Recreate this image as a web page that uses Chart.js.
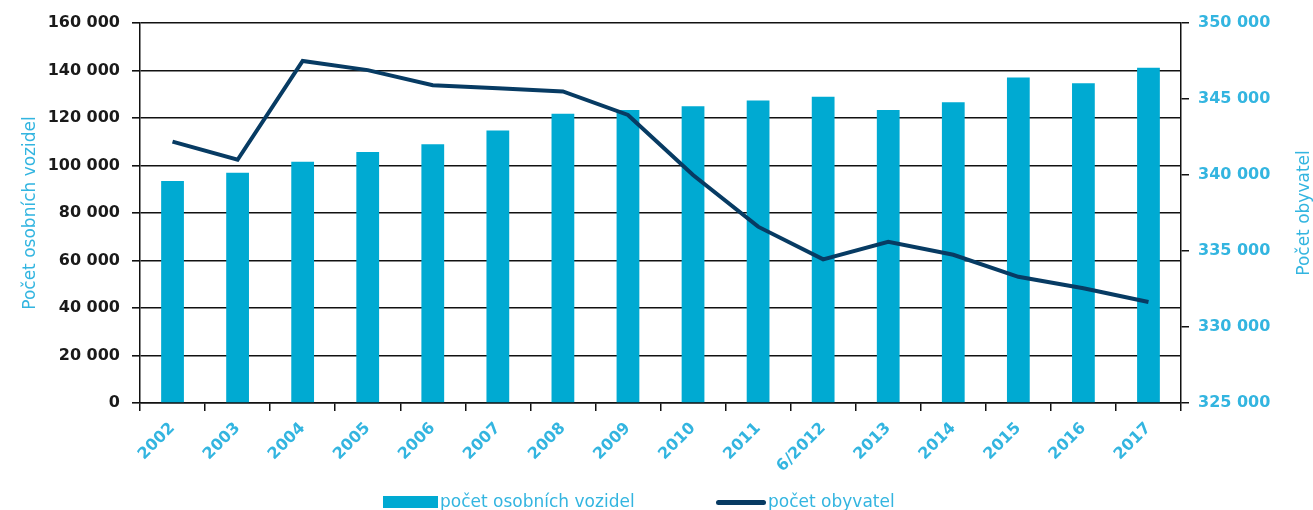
<!DOCTYPE html>
<html>
<head>
<meta charset="utf-8">
<script src="https://cdn.jsdelivr.net/npm/chart.js@4"></script>
<style>
  body { margin: 0; background: #fff; }
  #wrap { position: relative; width: 1313px; height: 510px; overflow: hidden; }
  .leg { position: absolute; top: 491px; font: 17px "DejaVu Sans", sans-serif; color: #33B5E0; white-space: nowrap; }
  .leg span { display: inline-block; vertical-align: middle; margin-right: 2px; }
</style>
</head>
<body>
<div id="wrap">
  <canvas id="myChart" width="1313" height="510"></canvas>
  <div class="leg" style="left:383px"><span style="width:55px;height:12px;background:#00AAD2"></span>počet osobních vozidel</div>
  <div class="leg" style="left:716px"><span style="width:50px;height:5px;border-radius:3px;background:#073B63"></span>počet obyvatel</div>
</div>
<script>
// Popisky a hodnoty
const roky = ['2002', '2003', '2004', '2005', '2006', '2007', '2008', '2009',
              '2010', '2011', '6/2012', '2013', '2014', '2015', '2016', '2017'];
const pocetVozidel = [93500, 97000, 101600, 105700, 108900, 114700, 121800, 123400,
                      125000, 127400, 129000, 123400, 126600, 137100, 134600, 141200];
const pocetObyvatel = [342200, 341000, 347500, 346900, 345900, 345700, 345500, 343950,
                       340000, 336600, 334450, 335600, 334750, 333300, 332550, 331650];

const azurova = '#33B5E0';
const tmava = '#073B63';

// cisla s mezerou jako oddelovacem tisicu
function formatCislo(v) {
    return String(v).replace(/\B(?=(\d{3})+(?!\d))/g, ' ');
}

// titulek prave osy (cte se zdola nahoru)
const pravyTitulek = {
    id: 'pravyTitulek',
    afterDraw(chart) {
        const ctx = chart.ctx;
        const area = chart.chartArea;
        ctx.save();
        ctx.translate(1305, (area.top + area.bottom) / 2);
        ctx.rotate(-Math.PI / 2);
        ctx.fillStyle = azurova;
        ctx.font = '17px "DejaVu Sans"';
        ctx.textAlign = 'center';
        ctx.textBaseline = 'middle';
        ctx.fillText('Počet obyvatel', 0, 0);
        ctx.restore();
    }
};

const ctx = document.getElementById('myChart').getContext('2d');
const myChart = new Chart(ctx, {
    type: 'bar',
    data: {
        labels: roky,
        datasets: [{
            type: 'line',
            label: 'počet obyvatel',
            data: pocetObyvatel,
            yAxisID: 'y1',
            borderColor: tmava,
            backgroundColor: tmava,
            borderWidth: 4,
            pointRadius: 0,
            tension: 0,
            order: 0,
        }, {
            label: 'počet osobních vozidel',
            data: pocetVozidel,
            yAxisID: 'y',
            backgroundColor: '#00AAD2',
            categoryPercentage: 1,
            barPercentage: 0.35,
            order: 1,
        }],
    },
    options: {
        responsive: false,
        animation: false,
        layout: { padding: { top: 23, left: 0, right: 0, bottom: 0 } },
        plugins: {
            legend: { display: false },
            tooltip: { enabled: false },
        },
        scales: {
            x: {
                offset: true,
                grid: { offset: true, drawOnChartArea: false, color: '#111', tickLength: 8, lineWidth: 1.5 },
                border: { color: '#111', width: 1.5 },
                ticks: {
                    color: azurova,
                    font: { family: 'DejaVu Sans', size: 16, weight: 'bold' },
                    maxRotation: 45,
                    minRotation: 45,
                    padding: 8,
                },
                afterFit: (s) => { s.height = 107; },
            },
            y: {
                position: 'left',
                min: 0,
                max: 160000,
                ticks: {
                    stepSize: 20000,
                    color: '#1a1a1a',
                    padding: 12,
                    font: { family: 'DejaVu Sans', size: 16, weight: 'bold' },
                    callback: (v) => formatCislo(v),
                },
                grid: { color: '#111', lineWidth: 1.6, tickLength: 8 },
                border: { color: '#111', width: 1.5 },
                title: {
                    display: true,
                    text: 'Počet osobních vozidel',
                    color: azurova,
                    font: { family: 'DejaVu Sans', size: 17 },
                    padding: { top: 20, bottom: 0 },
                },
                afterFit: (s) => { s.width = 140; },
            },
            y1: {
                position: 'right',
                min: 325000,
                max: 350000,
                ticks: {
                    stepSize: 5000,
                    color: azurova,
                    padding: 9,
                    font: { family: 'DejaVu Sans', size: 16, weight: 'bold' },
                    callback: (v) => formatCislo(v),
                },
                grid: { drawOnChartArea: false, color: '#111', lineWidth: 1.5, tickLength: 8 },
                border: { color: '#111', width: 1.5 },
                afterFit: (s) => { s.width = 132; },
            },
        },
    },
    plugins: [pravyTitulek],
});
</script>
</body>
</html>
